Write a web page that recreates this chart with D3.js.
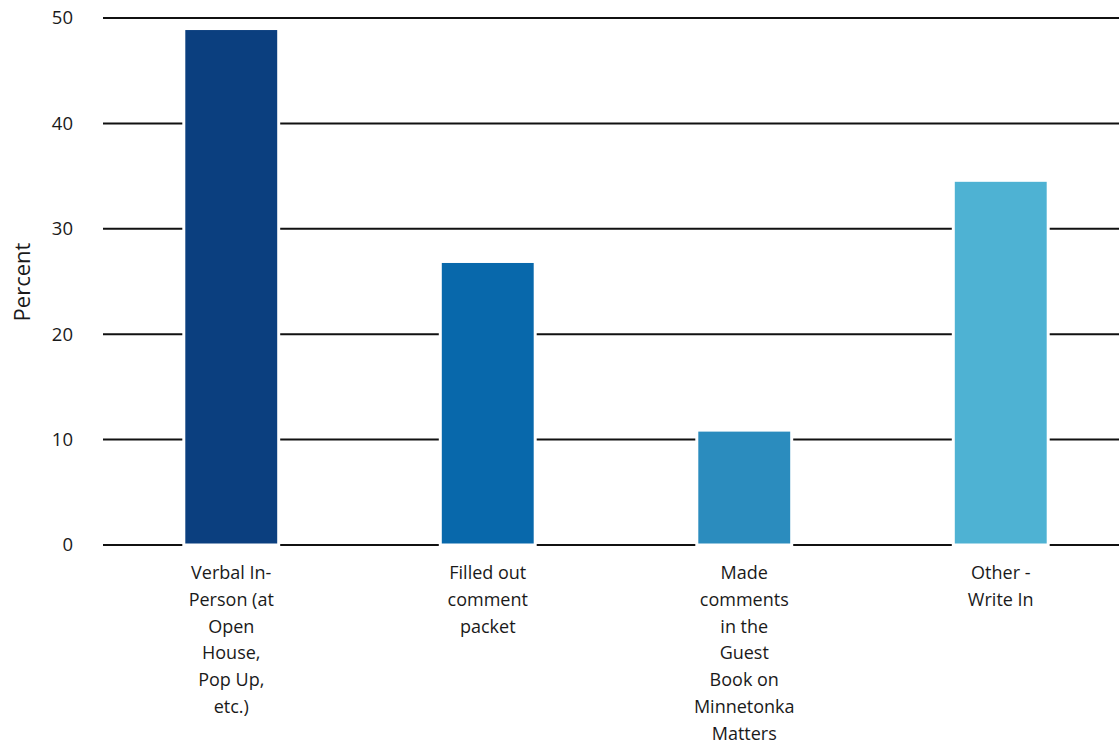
<!DOCTYPE html>
<html><head><meta charset="utf-8">
<script src="https://cdn.jsdelivr.net/npm/d3@7"></script>
<style>body{margin:0;background:#fff}svg{display:block}text{font-family:"Open Sans",Lato,sans-serif;fill:#1a1a1a}</style>
</head><body>
<svg id="c" width="1119" height="746"></svg>
<script>
const categories = [
  ["Verbal In-","Person (at","Open","House,","Pop Up,","etc.)"],
  ["Filled out","comment","packet"],
  ["Made","comments","in the","Guest","Book on","Minnetonka","Matters"],
  ["Other -","Write In"]
];
const values = [49.0, 26.9, 10.9, 34.6];
const colors = ["#0b3f7f", "#0868ab", "#2b8cbe", "#4eb2d3"];
const yTicks = [0, 10, 20, 30, 40, 50];

const svg = d3.select("#c");
const x = d3.scaleBand().domain(d3.range(values.length)).range([103, 1129]).paddingInner(0.63).paddingOuter(0.315);
const y = d3.scaleLinear().domain([0, 50]).range([545, 18]);

// gridlines
svg.append("g").selectAll("line").data(yTicks).join("line")
  .attr("x1", 103).attr("x2", 1129)
  .attr("y1", d => y(d)).attr("y2", d => y(d))
  .attr("stroke", "#111").attr("stroke-width", 2);

// y tick labels
svg.append("g").selectAll("text").data(yTicks).join("text")
  .attr("x", 73).attr("y", d => y(d)).attr("dy", "0.35em")
  .attr("text-anchor", "end").attr("font-size", 18.5).text(d => d);

// bars
svg.append("g").selectAll("rect").data(values).join("rect")
  .attr("x", (d, i) => x(i)).attr("width", x.bandwidth())
  .attr("y", d => y(d)).attr("height", d => y(0) - y(d))
  .attr("fill", (d, i) => colors[i])
  .attr("stroke", "#fff").attr("stroke-width", 3);

// x labels
const xl = svg.append("g").selectAll("text").data(categories).join("text")
  .attr("text-anchor", "middle").attr("font-size", 18)
  .attr("transform", (d, i) => `translate(${x(i) + x.bandwidth() / 2},579)`);
xl.selectAll("tspan").data(d => d).join("tspan")
  .attr("x", 0).attr("y", (d, j) => j * 26.8).text(d => d);

// y title
svg.append("text").attr("transform", "translate(30,282) rotate(-90)")
  .attr("text-anchor", "middle").attr("font-size", 22).text("Percent");
</script>
</body></html>
